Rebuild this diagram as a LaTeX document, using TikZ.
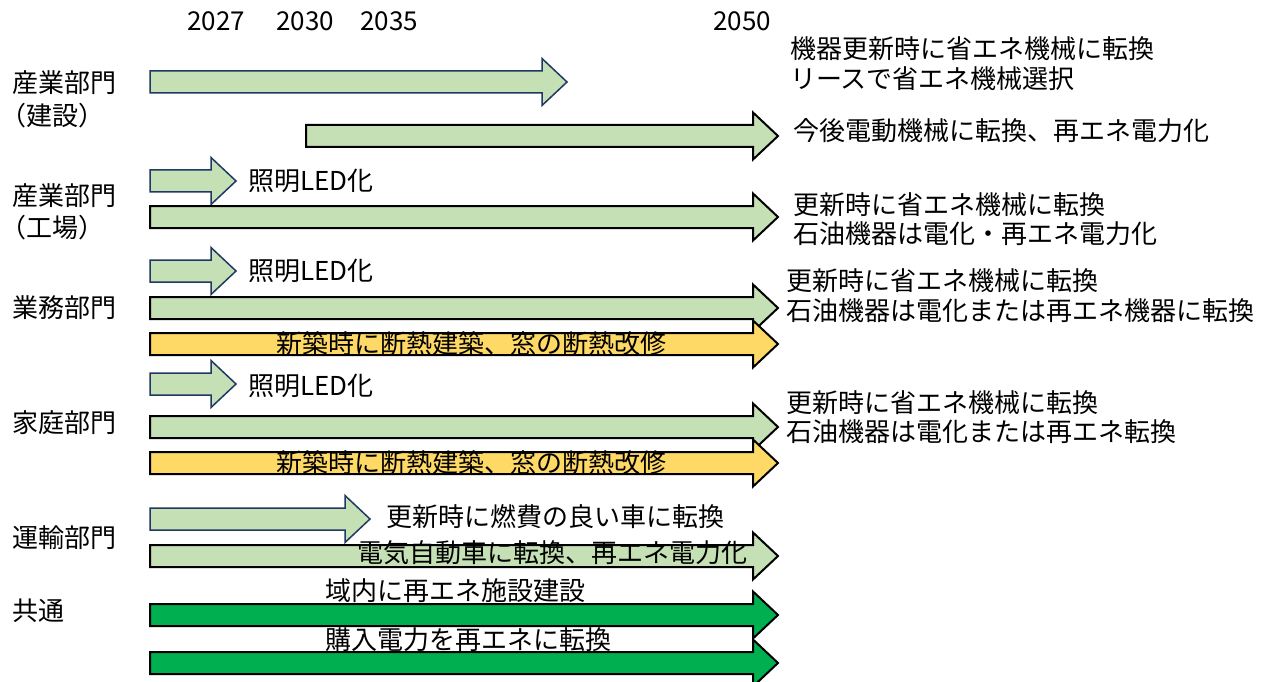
\documentclass[tikz,border=0pt]{standalone}
\usepackage{fontspec}
\setmainfont{Noto Sans CJK JP}
\definecolor{lgreen}{HTML}{C5E0B4}
\definecolor{ayellow}{HTML}{FFD966}
\definecolor{dgreen}{HTML}{00B050}
\definecolor{anavy}{HTML}{203864}
% style, name, x-start, x-tip, y-centre
\newcommand{\blockarrow}[5]{%
  \draw[#1] (#3,#5-11) -- (#4-25,#5-11) -- (#4-25,#5-23.5) -- (#4,#5)
    -- (#4-25,#5+23.5) -- (#4-25,#5+11) -- (#3,#5+11) -- cycle;
  \coordinate (#2) at (#4,#5);}
\begin{document}
\begin{tikzpicture}[x=1pt,y=-1pt,
  navyarrow/.style={fill=lgreen,draw=anavy,line width=1.5pt,line join=miter},
  blackarrow/.style={fill=lgreen,draw=black,line width=2pt,line join=miter},
  yellowarrow/.style={fill=ayellow,draw=black,line width=2pt,line join=miter},
  greenarrow/.style={fill=dgreen,draw=black,line width=2pt,line join=miter},
  txt/.style={inner sep=0pt,anchor=west,font=\fontsize{26}{30}\selectfont},
  ctxt/.style={inner sep=0pt,anchor=center,font=\fontsize{26}{30}\selectfont}]
\useasboundingbox (0,0) rectangle (1275,682);

% years
\node[ctxt] (y2027) at (216,21) {2027};
\node[ctxt] (y2030) at (305,21) {2030};
\node[ctxt] (y2035) at (389,21) {2035};
\node[ctxt] (y2050) at (742,21) {2050};

% sector labels
\node[txt] (s1a) at (12,83) {産業部門};
\node[txt] (s1b) at (0,116) {（建設）};
\node[txt] (s2a) at (12,196) {産業部門};
\node[txt] (s2b) at (0,228) {（工場）};
\node[txt] (s3) at (12,308) {業務部門};
\node[txt] (s4) at (12,423) {家庭部門};
\node[txt] (s5) at (12,538) {運輸部門};
\node[txt] (s6) at (12,611) {共通};

% construction
\blockarrow{navyarrow}{a1}{150}{567}{82}
\blockarrow{blackarrow}{a2}{306}{778}{136}
\node[txt] (r1a) at (790,49) {機器更新時に省エネ機械に転換};
\node[txt] (r1b) at (790,79) {リースで省エネ機械選択};
\node[txt] (r2) at (793,131) {今後電動機械に転換、再エネ電力化};

% factory
\blockarrow{navyarrow}{a3}{150}{236}{181}
\node[txt] (l3) at (248,181) {照明LED化};
\blockarrow{blackarrow}{a4}{150}{778}{217}
\node[txt] (r4a) at (793,205) {更新時に省エネ機械に転換};
\node[txt] (r4b) at (793,234) {石油機器は電化・再エネ電力化};

% business
\blockarrow{navyarrow}{a5}{150}{236}{271}
\node[txt] (l5) at (248,271) {照明LED化};
\blockarrow{blackarrow}{a6}{150}{778}{308}
\blockarrow{yellowarrow}{a7}{150}{778}{344}
\node[ctxt] (m7) at (471,344) {新築時に断熱建築、窓の断熱改修};
\node[txt] (r6a) at (786,281) {更新時に省エネ機械に転換};
\node[txt] (r6b) at (786,311) {石油機器は電化または再エネ機器に転換};

% household
\blockarrow{navyarrow}{a8}{150}{236}{384}
\node[txt] (l8) at (248,386) {照明LED化};
\blockarrow{blackarrow}{a9}{150}{778}{427}
\blockarrow{yellowarrow}{a10}{150}{778}{463}
\node[ctxt] (m10) at (471,463) {新築時に断熱建築、窓の断熱改修};
\node[txt] (r9a) at (786,403) {更新時に省エネ機械に転換};
\node[txt] (r9b) at (786,432) {石油機器は電化または再エネ転換};

% transport
\blockarrow{navyarrow}{a11}{150}{370}{519}
\node[txt] (l11) at (386,517) {更新時に燃費の良い車に転換};
\blockarrow{blackarrow}{a12}{150}{778}{556}
\node[txt] (m12) at (357,553) {電気自動車に転換、再エネ電力化};

% common
\blockarrow{greenarrow}{a13}{150}{778}{615}
\node[txt] (m13) at (325,591) {域内に再エネ施設建設};
\blockarrow{greenarrow}{a14}{150}{778}{663}
\node[txt] (m14) at (325,640) {購入電力を再エネに転換};
\end{tikzpicture}
\end{document}
